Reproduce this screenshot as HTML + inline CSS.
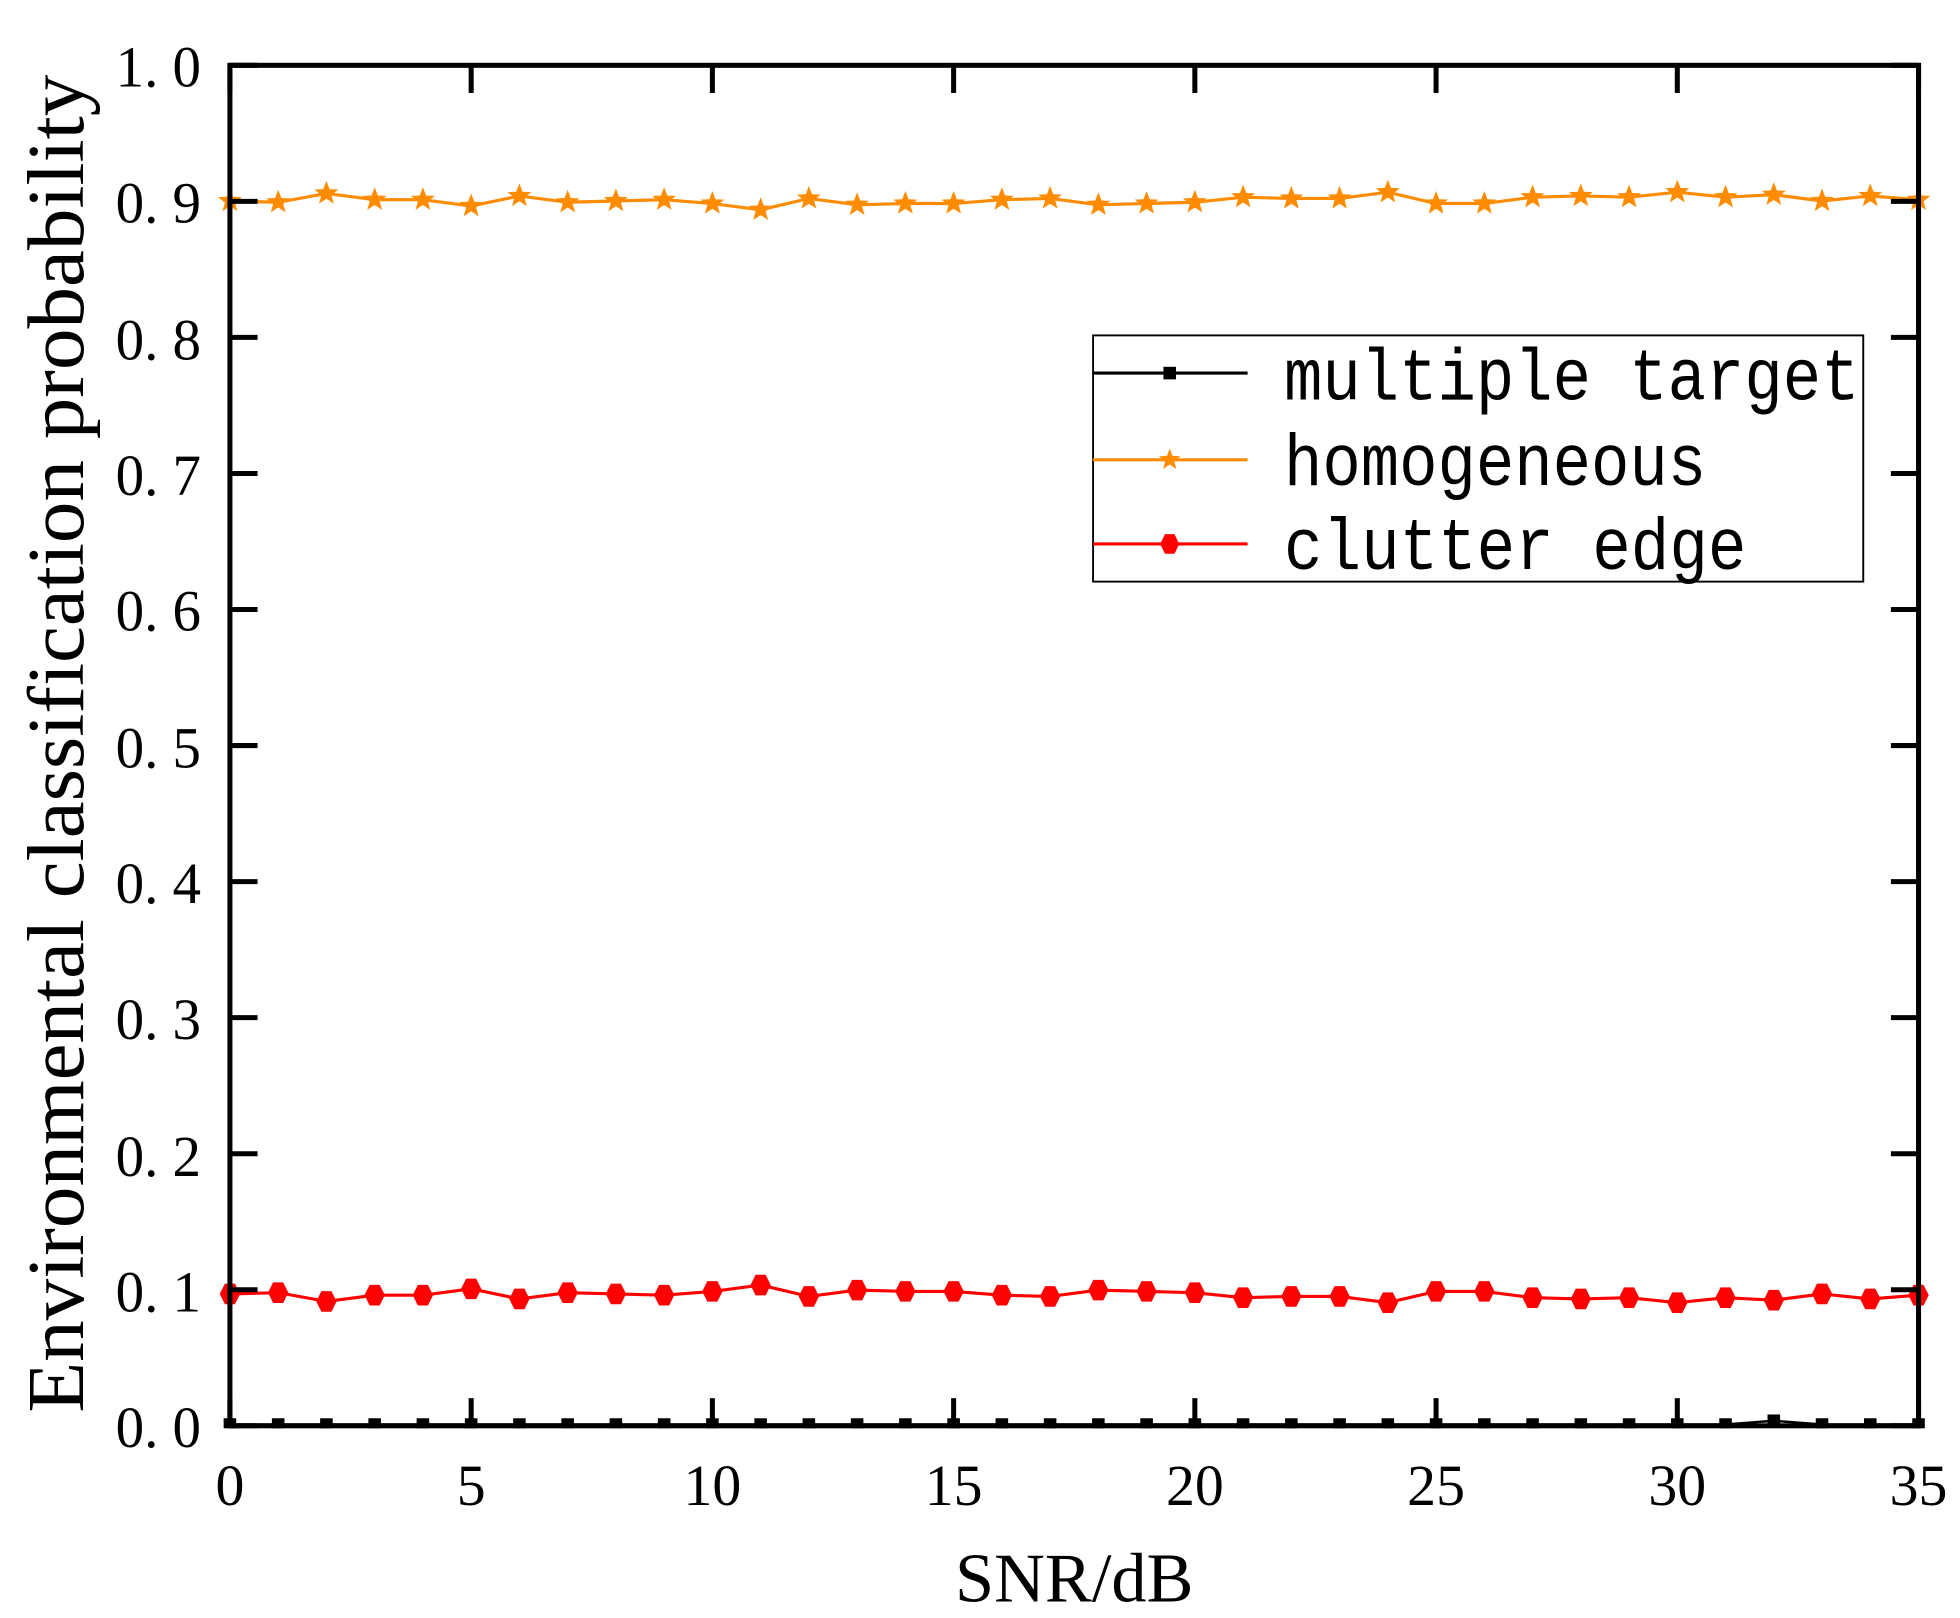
<!DOCTYPE html>
<html><head><meta charset="utf-8"><style>html,body{margin:0;padding:0;background:#fff}svg{display:block}</style></head>
<body>
<svg id="s" width="1960" height="1618" viewBox="0 0 1560 1288" preserveAspectRatio="none" xmlns="http://www.w3.org/2000/svg">
<rect width="1560" height="1288" fill="#fff"/>
<g id="data"></g>
<rect x="183" y="52" width="1344" height="1083" fill="none" stroke="#000" stroke-width="4"/>
<g id="ticks" stroke="#000" stroke-width="4"></g>
<g font-family="Liberation Serif, serif" font-size="46" fill="#000" text-anchor="end">
<text x="160" y="69" textLength="68" lengthAdjust="spacingAndGlyphs">1. 0</text><text x="160" y="177" textLength="68" lengthAdjust="spacingAndGlyphs">0. 9</text><text x="160" y="286" textLength="68" lengthAdjust="spacingAndGlyphs">0. 8</text>
<text x="160" y="394" textLength="68" lengthAdjust="spacingAndGlyphs">0. 7</text><text x="160" y="502" textLength="68" lengthAdjust="spacingAndGlyphs">0. 6</text><text x="160" y="611" textLength="68" lengthAdjust="spacingAndGlyphs">0. 5</text>
<text x="160" y="719" textLength="68" lengthAdjust="spacingAndGlyphs">0. 4</text><text x="160" y="827" textLength="68" lengthAdjust="spacingAndGlyphs">0. 3</text><text x="160" y="936" textLength="68" lengthAdjust="spacingAndGlyphs">0. 2</text>
<text x="160" y="1044" textLength="68" lengthAdjust="spacingAndGlyphs">0. 1</text><text x="160" y="1152" textLength="68" lengthAdjust="spacingAndGlyphs">0. 0</text>
</g>
<g font-family="Liberation Serif, serif" font-size="46" fill="#000" text-anchor="middle">
<text x="183" y="1198">0</text><text x="375" y="1198">5</text><text x="567" y="1198">10</text>
<text x="759" y="1198">15</text><text x="951" y="1198">20</text><text x="1143" y="1198">25</text>
<text x="1335" y="1198">30</text><text x="1527" y="1198">35</text>
</g>
<text x="855" y="1275" font-family="Liberation Serif, serif" font-size="56" text-anchor="middle">SNR/dB</text>
<text transform="translate(66,592) rotate(-90)" font-family="Liberation Serif, serif" font-size="64" text-anchor="middle" textLength="1065" lengthAdjust="spacingAndGlyphs">Environmental classification probability</text>
<rect x="870" y="267" width="613" height="196" fill="#fff" stroke="#000" stroke-width="1.5"/>
<g id="leg"></g>
<g font-family="Liberation Mono, monospace" font-size="58" fill="#000">
<text x="1022" y="318" textLength="458" lengthAdjust="spacingAndGlyphs">multiple target</text>
<text x="1022" y="386" textLength="336" lengthAdjust="spacingAndGlyphs">homogeneous</text>
<text x="1022" y="453" textLength="368" lengthAdjust="spacingAndGlyphs">clutter edge</text>
</g>
</svg>
<script>
var NS="http://www.w3.org/2000/svg";
function el(p,t,a){var e=document.createElementNS(NS,t);for(var k in a)e.setAttribute(k,a[k]);p.appendChild(e);return e;}
var d=document.getElementById("data"),tk=document.getElementById("ticks"),lg=document.getElementById("leg");
function X(i){return 183+i*1344/35;}
var oy=[160,161,154,159,159,164,156,161,160,159,162,167,158,163,162,162,159,158,163,162,161,157,158,158,153,162,162,157,156,157,153,157,155,160,156,159];
function star(p,cx,cy,r,c){var s="";for(var k=0;k<10;k++){var a=-Math.PI/2+k*Math.PI/5,rr=k%2?r*0.42:r;s+=(cx+rr*Math.cos(a)).toFixed(1)+","+(cy+rr*Math.sin(a)).toFixed(1)+" ";}el(p,"polygon",{points:s,fill:c});}
function hex(p,cx,cy,r,c){var s="";for(var k=0;k<6;k++){var a=k*Math.PI/3;s+=(cx+r*0.85*Math.cos(a)).toFixed(1)+","+(cy+r*Math.sin(a)).toFixed(1)+" ";}el(p,"polygon",{points:s,fill:c});}
var po="",pr="",pb="";
for(var i=0;i<36;i++){po+=X(i)+","+oy[i]+" ";pr+=X(i)+","+(1190-oy[i])+" ";pb+=X(i)+","+(i==32?1131:1134)+" ";}
el(d,"polyline",{points:po,fill:"none",stroke:"#ff8c00","stroke-width":2.5});
el(d,"polyline",{points:pr,fill:"none",stroke:"#ff0000","stroke-width":2.5});
el(d,"polyline",{points:pb,fill:"none",stroke:"#000","stroke-width":2});
for(i=0;i<36;i++){star(d,X(i),oy[i],10,"#ff8c00");hex(d,X(i),1190-oy[i],9.5,"#ff0000");
el(d,"rect",{x:X(i)-5,y:(i==32?1126:1129),width:10,height:8,fill:"#000"});}
for(i=0;i<=7;i++){var x=183+i*192;el(tk,"line",{x1:x,y1:1135,x2:x,y2:1113});el(tk,"line",{x1:x,y1:52,x2:x,y2:74});}
for(i=0;i<=10;i++){var y=52+i*108.3;el(tk,"line",{x1:183,y1:y,x2:205,y2:y});el(tk,"line",{x1:1527,y1:y,x2:1505,y2:y});}
el(lg,"line",{x1:870,y1:297,x2:993,y2:297,stroke:"#000","stroke-width":2.5});el(lg,"rect",{x:926,y:292,width:10,height:10,fill:"#000"});
el(lg,"line",{x1:870,y1:366,x2:993,y2:366,stroke:"#ff8c00","stroke-width":2.5});star(lg,931,366,9,"#ff8c00");
el(lg,"line",{x1:870,y1:433,x2:993,y2:433,stroke:"#ff0000","stroke-width":2.5});hex(lg,931,433,9,"#ff0000");
</script>
</body></html>
